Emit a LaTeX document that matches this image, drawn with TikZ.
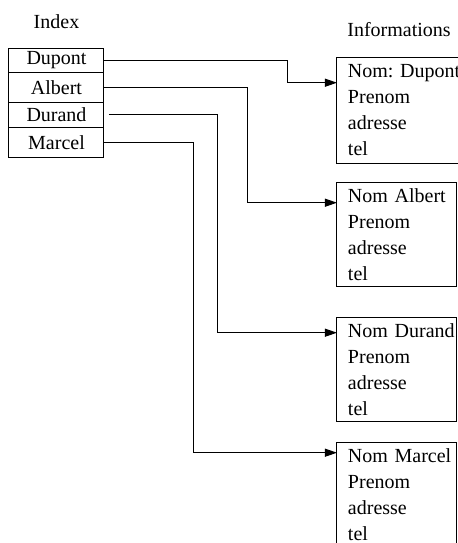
\documentclass[tikz,border=0pt]{standalone}
\usepackage{fontspec}
\setmainfont{Liberation Serif}
\usepackage{tikz}
\usetikzlibrary{arrows.meta,positioning}

\begin{document}
\frenchspacing
\begin{tikzpicture}[
    x=0.5pt, y=-0.5pt,
    font=\fontsize{10pt}{13pt}\selectfont,
    row/.style={draw, line width=0.5pt, minimum width=47.5pt, inner ysep=1pt, outer sep=0pt},
    info/.style={draw, line width=0.5pt, align=left, inner xsep=5.5pt, inner ysep=2pt, outer sep=0pt},
    arr/.style={-{Triangle[length=6pt, width=4pt]}, line width=0.5pt},
  ]
    \path[use as bounding box] (0,0) rectangle (458,543);
    \clip (0,0) rectangle (458,543);

    % index table
    \node[row, minimum height=12.35pt, anchor=north west] (dupont) at (9,48) {Dupont};
    \node[row, minimum height=14.8pt, below=0pt of dupont] (albert) {Albert};
    \node[row, minimum height=12.5pt, below=0pt of albert] (durand) {Durand};
    \node[row, minimum height=15pt, below=0pt of durand] (marcel) {Marcel};
    \node[above=6pt of dupont] (index) {Index};

    % records
    \node[info, text width=51pt, minimum height=53pt, anchor=north west] (dupont-info) at (337,57.3) {\mbox{Nom:\ Dupont}\\Prenom\\adresse\\tel};
    \node[info, text width=49pt, minimum height=52pt, anchor=north west] (albert-info) at (337,182.3) {\mbox{Nom Albert}\\Prenom\\adresse\\tel};
    \node[info, text width=49pt, minimum height=52pt, anchor=north west] (durand-info) at (337,317.3) {\mbox{Nom Durand}\\Prenom\\adresse\\tel};
    \node[info, text width=49pt, minimum height=52pt, anchor=north west] (marcel-info) at (337,442.3) {\mbox{Nom Marcel}\\Prenom\\adresse\\tel};
    \node[above=6.7pt of dupont-info] (informations) {Informations};

    \draw[arr] (dupont.east) -- ++(184,0) |- ([yshift=-12.7pt]dupont-info.north west);
    \draw[arr] (albert.east) -- ++(144,0) |- ([yshift=-10.2pt]albert-info.north west);
    \draw[arr] ([xshift=2.5pt]durand.east) -- ++(109,0) |- ([yshift=-7.7pt]durand-info.north west);
    \draw[arr] (marcel.east) -- ++(89.5,0) |- ([yshift=-5.2pt]marcel-info.north west);
  \end{tikzpicture}
\end{document}
